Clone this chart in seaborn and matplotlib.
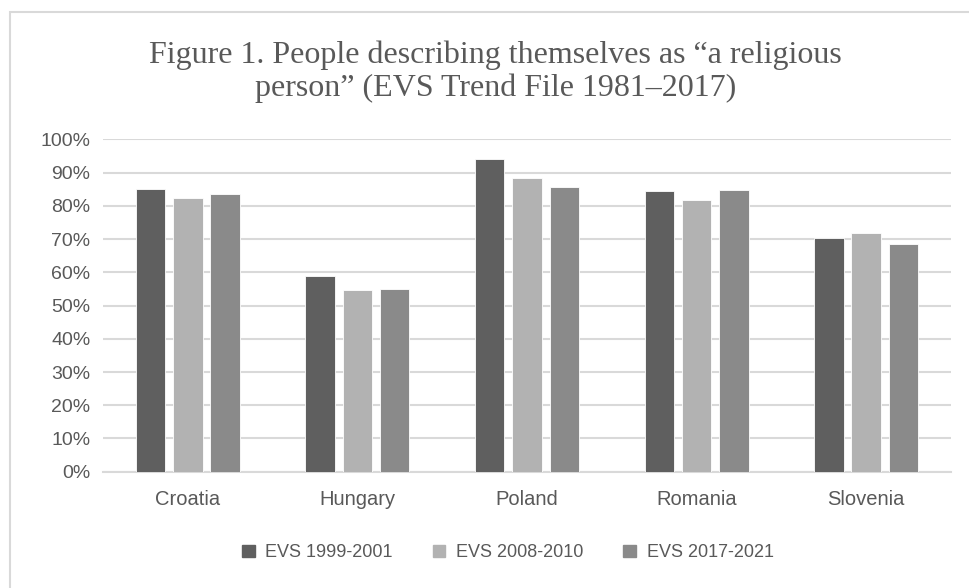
import matplotlib
matplotlib.use("Agg")
import matplotlib.pyplot as plt
import matplotlib.patches as mpatches
import seaborn as sns
import pandas as pd

# values (share of respondents)
countries = ["Croatia", "Hungary", "Poland", "Romania", "Slovenia"]
waves = ["EVS 1999-2001", "EVS 2008-2010", "EVS 2017-2021"]
wave_1999 = [0.85, 0.59, 0.941, 0.845, 0.702]
wave_2008 = [0.825, 0.548, 0.883, 0.818, 0.717]
wave_2017 = [0.837, 0.55, 0.856, 0.849, 0.686]
yticks = [0.0, 0.1, 0.2, 0.3, 0.4, 0.5, 0.6, 0.7, 0.8, 0.9, 1.0]

colors = ["#5f5f5f", "#b2b2b2", "#8a8a8a"]
text_col = "#595959"
grid_col = "#d9d9d9"

df = pd.DataFrame({
    "country": countries * 3,
    "wave": [waves[0]] * 5 + [waves[1]] * 5 + [waves[2]] * 5,
    "share": wave_1999 + wave_2008 + wave_2017,
})

sns.set_style("white")
plt.rcParams["font.family"] = ["Liberation Sans", "DejaVu Sans"]

fig = plt.figure(figsize=(9.69, 5.88), dpi=100)
ax = fig.add_axes([0.1063, 0.1978, 0.8751, 0.565])

sns.barplot(data=df, x="country", y="share", hue="wave", palette=colors,
            width=0.66, gap=0.21, edgecolor="white", linewidth=0.6,
            saturation=1, legend=False, ax=ax, zorder=3)

ax.set_ylim(0, 1.0)
ax.set_yticks(yticks)
ax.set_yticklabels([f"{int(round(t * 100))}%" for t in yticks])
ax.yaxis.grid(True, color=grid_col, linewidth=1.5, zorder=0)
ax.set_axisbelow(True)
for s in ["top", "right", "left"]:
    ax.spines[s].set_visible(False)
ax.spines["bottom"].set_color(grid_col)
ax.spines["bottom"].set_linewidth(1.5)
ax.tick_params(axis="both", length=0, colors=text_col)
ax.tick_params(axis="y", labelsize=14, pad=9)
ax.tick_params(axis="x", labelsize=14.5, pad=13)
ax.set_xlabel("")
ax.set_ylabel("")
ax.set_xlim(-0.5, 4.5)

# title
fig.text(0.511, 0.906, "Figure 1. People describing themselves as \u201ca religious",
         ha="center", va="center", fontsize=23, color=text_col,
         family="Liberation Serif")
fig.text(0.511, 0.85, "person\u201d (EVS Trend File 1981\u20132017)",
         ha="center", va="center", fontsize=23, color=text_col,
         family="Liberation Serif")

# legend
handles = [mpatches.Patch(color=c, label=w) for c, w in zip(colors, waves)]
fig.legend(handles=handles, loc="center", bbox_to_anchor=(0.524, 0.06), ncol=3,
           frameon=False, fontsize=13, labelcolor=text_col,
           handlelength=0.7, handleheight=0.7, handletextpad=0.6,
           columnspacing=2.2)

# chart border (only top and left visible in the crop)
fig.patches.append(mpatches.Rectangle((10 / 969, -0.1), 1.2, 1.1 - 12 / 588,
                                      transform=fig.transFigure, fill=False,
                                      edgecolor=grid_col, linewidth=1.5))

fig.savefig("out.png", dpi=100)
